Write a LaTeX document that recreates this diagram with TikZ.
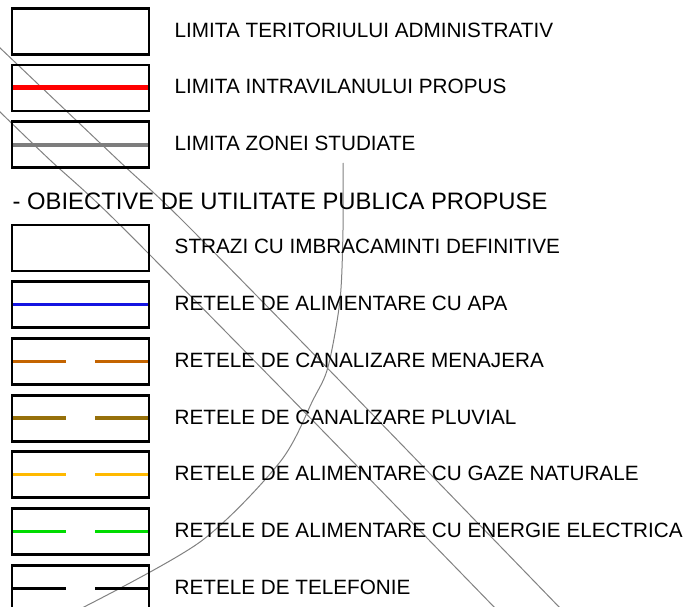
\documentclass[tikz,border=0pt]{standalone}
\usepackage{fontspec}
\setmainfont{Liberation Sans}
\definecolor{limred}{RGB}{255,0,0}
\definecolor{limgrey}{RGB}{125,125,125}
\definecolor{apablue}{RGB}{20,20,225}
\definecolor{menorange}{RGB}{196,100,0}
\definecolor{pluvbrown}{RGB}{150,112,10}
\definecolor{gazyellow}{RGB}{255,185,0}
\definecolor{elgreen}{RGB}{0,220,0}
\definecolor{bgline}{RGB}{130,130,130}
\begin{document}
\begin{tikzpicture}[x=1pt,y=-1pt,
  legbox/.style={draw=black,line width=2.8pt,minimum width=137pt,minimum height=46pt,inner sep=0pt,outer sep=0pt},
  legtext/.style={anchor=base west,inner sep=0pt,font=\fontsize{20.7}{24}\selectfont},
  headtext/.style={anchor=base west,inner sep=0pt,font=\fontsize{23.8}{28}\selectfont},
  thin grey/.style={draw=bgline,line width=1pt}]
\clip (0,0) rectangle (686,607);
\fill[white] (0,0) rectangle (686,607);
% background map lines
\draw[thin grey] plot[smooth] coordinates {(-2,46) (118,160) (182,220) (339,380) (561,609)};
\draw[thin grey] plot[smooth] coordinates {(-2,110) (50,160) (115,220) (280,387) (496,609)};
\draw[thin grey] plot[smooth] coordinates {(343,163) (343,230) (340,300) (328,367) (313,400) (280,462) (200,542) (80,609)};
% legend box centres
\foreach \i/\c in {1/31.3,2/88,3/144.7,4/248,5/304.7,6/361.4,7/418.1,8/474.8,9/531.5,10/588.2}
  \coordinate (c\i) at (80.5,\c);
% symbols
\draw[limred,line width=5pt] (12,88) -- (149,88);
\draw[limgrey,line width=4pt] (12,144.7) -- (149,144.7);
\draw[apablue,line width=3.5pt] (12,304.7) -- (149,304.7);
\foreach \i/\col in {6/menorange,7/pluvbrown,8/gazyellow,9/elgreen,10/black}{
  \draw[\col,line width=3.3pt] ([xshift=-68.5pt]c\i) -- ([xshift=-14.5pt]c\i);
  \draw[\col,line width=3.3pt] ([xshift=14.5pt]c\i) -- ([xshift=68.5pt]c\i);
}
\foreach \i in {1,...,10}
  \node[legbox] (b\i) at (c\i) {};
% texts
\node[legtext] (t1) at (174.5,37.3) {LIMITA TERITORIULUI ADMINISTRATIV};
\node[legtext] (t2) at (174.5,94) {LIMITA INTRAVILANULUI PROPUS};
\node[legtext] (t3) at (174.5,150.7) {LIMITA ZONEI STUDIATE};
\node[headtext] (h) at (12.5,210) {- OBIECTIVE DE UTILITATE PUBLICA PROPUSE};
\node[legtext] (t4) at (174.5,254) {STRAZI CU IMBRACAMINTI DEFINITIVE};
\node[legtext] (t5) at (174.5,310.7) {RETELE DE ALIMENTARE CU APA};
\node[legtext] (t6) at (174.5,367.4) {RETELE DE CANALIZARE MENAJERA};
\node[legtext] (t7) at (174.5,424.1) {RETELE DE CANALIZARE PLUVIAL};
\node[legtext] (t8) at (174.5,480.8) {RETELE DE ALIMENTARE CU GAZE NATURALE};
\node[legtext] (t9) at (174.5,537.5) {RETELE DE ALIMENTARE CU ENERGIE ELECTRICA};
\node[legtext] (t10) at (174.5,594.2) {RETELE DE TELEFONIE};
\end{tikzpicture}
\end{document}
